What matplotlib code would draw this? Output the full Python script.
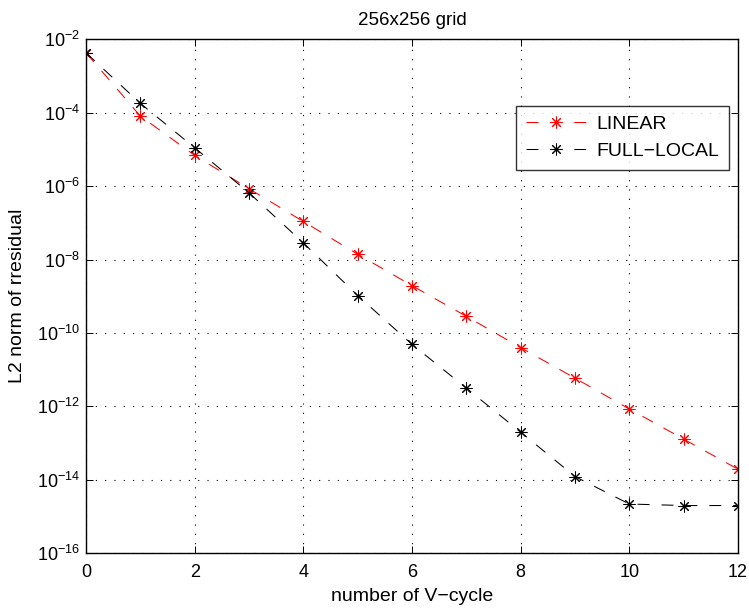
import math
import matplotlib
matplotlib.use("Agg")
import matplotlib.pyplot as plt
from matplotlib.ticker import FixedLocator, NullLocator

plt.rcParams['font.family'] = ['Liberation Sans', 'DejaVu Sans']
plt.rcParams['mathtext.fontset'] = 'custom'
plt.rcParams['mathtext.rm'] = 'Liberation Sans'
plt.rcParams['mathtext.it'] = 'Liberation Sans'
plt.rcParams['lines.scale_dashes'] = False

cycles = list(range(13))
linear = [4.3e-3, 8.1e-5, 6.9e-6, 8.5e-7, 1.09e-7, 1.4e-8, 1.95e-9, 2.85e-10,
          4.0e-11, 5.9e-12, 8.5e-13, 1.29e-13, 1.95e-14]
full_local = [4.3e-3, 1.8e-4, 1.11e-5, 6.6e-7, 2.85e-8, 1.05e-9, 4.9e-11, 3.16e-12,
              2.0e-13, 1.23e-14, 2.2e-15, 2.0e-15, 2.0e-15]
xticks = [0, 2, 4, 6, 8, 10, 12]
yticks = [1e-16, 1e-14, 1e-12, 1e-10, 1e-8, 1e-6, 1e-4, 1e-2]

fig = plt.figure(figsize=(7.49, 6.08), dpi=100)
ax = fig.add_axes([86/749, 1 - 553.3/608, 652/749, 514/608])

ast = (8, 2, 0)
dash = (0, (8.6, 8.6))
for data, col, lab in [(linear, 'red', 'LINEAR'), (full_local, 'black', 'FULL\u2212LOCAL')]:
    ax.plot(cycles, data, color=col, linestyle=dash, linewidth=0.75,
            marker=ast, markersize=8.5, markeredgewidth=0.75, label=lab)

ax.set_yscale('log')
ax.set_xlim(0, 12)
ax.set_ylim(1e-16, 1e-2)
ax.xaxis.set_major_locator(FixedLocator(xticks))
ax.yaxis.set_major_locator(FixedLocator(yticks))
ax.yaxis.set_minor_locator(NullLocator())
ax.set_yticklabels([r'$10^{%d}$' % int(round(math.log10(v))) for v in yticks])
ax.grid(True, which='major', linestyle=(0, (0.8, 5.9)), color='black', linewidth=0.8)
ax.tick_params(direction='in', length=5, width=0.7, labelsize=13, top=True, right=True)
ax.tick_params(axis='y', pad=4)
ax.tick_params(axis='x', pad=8)
for s in ax.spines.values():
    s.set_linewidth(1.0)

ax.set_title('256x256 grid', fontsize=13.5, pad=10)
ax.set_xlabel('number of V\u2212cycle', fontsize=14, labelpad=5)
ax.set_ylabel('L2 norm of rresidual', fontsize=14, labelpad=8)

leg = ax.legend(loc='upper left', bbox_to_anchor=(0.66, 0.871), fontsize=14,
                handlelength=3.1, frameon=True, fancybox=False, borderpad=0.5,
                labelspacing=0.5, handletextpad=0.5, borderaxespad=0)
leg.get_frame().set_edgecolor('black')
leg.get_frame().set_linewidth(1.0)

fig.savefig('out.png', dpi=100)
